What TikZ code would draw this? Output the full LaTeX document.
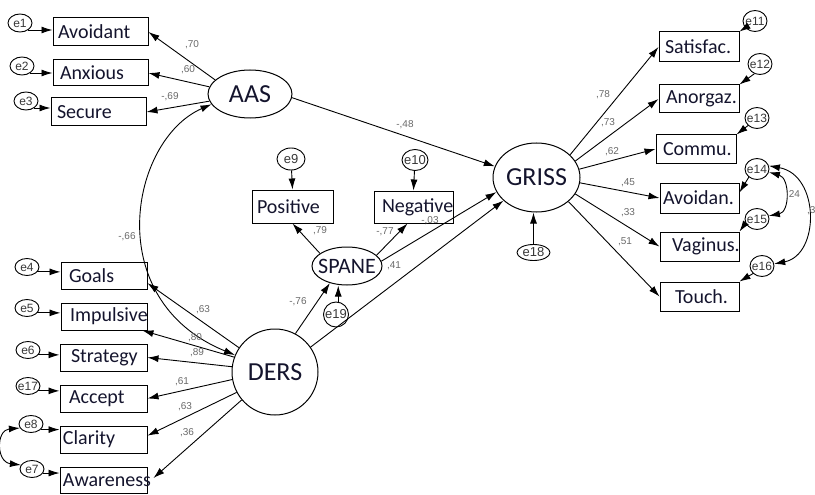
\documentclass[tikz,border=0pt]{standalone}
\usepackage{fontspec}
\setmainfont{Liberation Sans}
\newfontfamily\carl{Carlito}
\newfontfamily\arl{Liberation Sans}
\usetikzlibrary{arrows.meta,shapes.geometric,calc}
\hyphenpenalty=10000
\exhyphenpenalty=10000
\definecolor{txtc}{RGB}{20,20,45}
\definecolor{coefc}{RGB}{105,105,105}
\definecolor{errc}{RGB}{55,55,55}
\newcommand\bxfont{\carl\fontsize{20}{24}\selectfont}
\newcommand\ltfont{\carl\fontsize{26}{30}\selectfont}
\newcommand\erfont{\arl\fontsize{12}{14}\selectfont}
\newcommand\cffont{\arl\fontsize{10}{12}\selectfont}
\begin{document}
\begin{tikzpicture}[x=1pt,y=-1pt,
  >={Latex[length=11pt,width=7pt]},
  arr/.style={->, line width=0.9pt},
  darr/.style={<->, line width=0.9pt},
  obs/.style={draw, line width=1pt, inner ysep=0pt, align=left, font=\bxfont, text=txtc},
  lat/.style={draw, ellipse, line width=1pt, inner sep=0pt, font=\ltfont, text=txtc},
  err/.style={draw, ellipse, line width=0.9pt, inner sep=-2pt, minimum width=24pt, minimum height=18pt, font=\erfont, text=errc},
  coef/.style={font=\cffont, text=coefc, inner sep=0pt}]
\useasboundingbox (0,0) rectangle (815,495);

% latent variables
\node[lat, minimum width=84pt, minimum height=48pt] (AAS) at (250,94) {AAS};
\node[lat, minimum width=87pt, minimum height=69pt, inner xsep=-10pt] (GRISS) at (536.5,177.5) {GRISS};
\node[lat, minimum width=70pt, minimum height=38pt, inner xsep=-12pt, font=\carl\fontsize{22}{26}\selectfont] (SPANE) at (347,266) {SPANE};
\node[lat, circle, minimum size=86pt] (DERS) at (275,372) {DERS};

% observed: AAS
\node[obs, minimum height=28pt, text width=85pt, inner xsep=5pt] (Avoidant) at (100.5,32) {Avoidant};
\node[obs, minimum height=26pt, text width=81pt, inner xsep=7pt] (Anxious) at (100.5,73) {Anxious};
\node[obs, minimum height=28pt, text width=83pt, inner xsep=6pt] (Secure) at (98.5,112) {Secure};
% observed: DERS
\node[obs, minimum height=27pt, text width=70pt, inner xsep=8pt] (Goals) at (104,275.5) {Goals};
\node[obs, minimum height=27pt, text width=68pt, inner xsep=9pt] (Impulsive) at (104,316.5) {Impulsive};
\node[obs, minimum height=27pt, text width=65pt, inner xsep=11pt] (Strategy) at (103.5,357.5) {Strategy};
\node[obs, minimum height=27pt, text width=69pt, inner xsep=9pt] (Accept) at (103.5,398.5) {Accept};
\node[obs, minimum height=27pt, text width=81pt, inner xsep=3pt] (Clarity) at (103.5,439.5) {Clarity};
\node[obs, minimum height=26pt, text width=81pt, inner xsep=3pt] (Awareness) at (103.5,480) {Awareness};
% observed: SPANE
\node[obs, minimum height=33pt, text width=71pt, inner xsep=5pt] (Positive) at (292.5,206.5) {Positive};
\node[obs, minimum height=32pt, text width=63pt, inner xsep=8pt] (Negative) at (413.5,207) {Negative};
% observed: GRISS
\node[obs, minimum height=30pt, text width=68pt, inner xsep=6pt] (Satisfac) at (699,47) {Satisfac.};
\node[obs, minimum height=28pt, text width=66pt, inner xsep=7pt] (Anorgaz) at (699,99) {Anorgaz.};
\node[obs, minimum height=28pt, text width=66pt, inner xsep=7pt] (Commu) at (696,149) {Commu.};
\node[obs, minimum height=30pt, text width=73pt, inner xsep=3pt] (Avoidan) at (699.5,198) {Avoidan.};
\node[obs, minimum height=29pt, text width=55pt, inner xsep=12pt] (Vaginus) at (699.5,246.5) {Vaginus.};
\node[obs, minimum height=29pt, text width=49pt, inner xsep=15pt] (Touch) at (699.5,296.5) {Touch.};

% error terms
\node[err] (e1) at (20,23) {e1};
\node[err] (e2) at (22,66) {e2};
\node[err] (e3) at (26,101) {e3};
\node[err, minimum height=17pt] (e4) at (27,267) {e4};
\node[err, minimum height=17pt] (e5) at (27,308) {e5};
\node[err, minimum height=17pt] (e6) at (28,350) {e6};
\node[err, minimum height=17pt] (e17) at (28,386) {e17};
\node[err, minimum height=17pt] (e8) at (31,424) {e8};
\node[err, minimum height=17pt] (e7) at (32,469) {e7};
\node[err, minimum width=28pt, minimum height=22pt, font=\arl\fontsize{13}{15}\selectfont] (e9) at (291,159) {e9};
\node[err, minimum width=26pt, minimum height=21pt, font=\arl\fontsize{13}{15}\selectfont] (e10) at (415,160) {e10};
\node[err, minimum height=21pt] (e11) at (755,21) {e11};
\node[err, minimum height=21pt] (e12) at (760,64) {e12};
\node[err, minimum height=21pt] (e13) at (757,118) {e13};
\node[err, minimum height=21pt] (e14) at (757,169) {e14};
\node[err, minimum height=21pt] (e15) at (757,219) {e15};
\node[err, minimum height=21pt] (e16) at (762,266) {e16};
\node[err, minimum width=33pt, minimum height=16pt, font=\arl\fontsize{13}{15}\selectfont] (e18) at (533.5,252.5) {e18};
\node[err, minimum width=22pt, minimum height=25pt, font=\arl\fontsize{13}{15}\selectfont] (e19) at (336,314.5) {e19};

% error arrows
\draw[arr] (e1.-40) -- (e1.-40 -| Avoidant.west);
\draw[arr] (e2.-40) -- (e2.-40 -| Anxious.west);
\draw[arr] (e3.-40) -- (e3.-40 -| Secure.west);
\draw[arr] (e4.-25) -- (e4.-25 -| Goals.west);
\draw[arr] (e5.-25) -- (e5.-25 -| Impulsive.west);
\draw[arr] (e6.-25) -- (e6.-25 -| Strategy.west);
\draw[arr] (e17.-25) -- (e17.-25 -| Accept.west);
\draw[arr] (e8.-30) -- (e8.-30 -| Clarity.west);
\draw[arr] (e7.-20) -- (e7.-20 -| Awareness.west);
\draw[arr] (e9) -- (Positive.north);
\draw[arr] (e10) -- (Negative.north);
\draw[arr] (e11.215) -- (Satisfac.north east);
\draw[arr] (e12.240) -- (Anorgaz.north east);
\draw[arr] (e13.220) -- (Commu.north east);
\draw[arr] (e14.225) -- (Avoidan.8);
\draw[arr] (e15.200) -- (Vaginus.north east);
\draw[arr] (e16.220) -- (Touch.north east);
\draw[arr] (e18.north) -- (e18.north |- GRISS.south);
\draw[arr] (e19.80) -- (e19.80 |- SPANE.south);

% covariances
\draw[darr] (e8.200) .. controls (-4,430) and (-4,462) .. (e7.160);
\draw[darr] (e14.-15) .. controls (790,178) and (790,212) .. (e15.15);
\draw[darr] (e14.15) .. controls (820,175) and (820,255) .. (e16.10);
\draw[darr] (DERS.157) .. controls (100,300) and (130,140) .. (AAS.195);

% loadings
\draw[arr] (AAS.158) -- (Avoidant.east);
\draw[arr] (AAS.170) -- (Anxious.east);
\draw[arr] (AAS.190) -- (Secure.east);
\draw[arr] (DERS.146) -- (Goals.-10);
\draw[arr] (DERS.160) -- (Impulsive.-20);
\draw[arr] (DERS.173) -- (Strategy.east);
\draw[arr] (DERS.190) -- (Accept.east);
\draw[arr] (DERS.208) -- (Clarity.5);
\draw[arr] (DERS.220) -- ($(Awareness.east)+(6,-2)$);
\draw[arr] (SPANE.155) -- (Positive.south);
\draw[arr] (SPANE.20) -- ($(Negative.south)+(-6,0)$);
\draw[arr] (GRISS.34) -- (Satisfac.west);
\draw[arr] (GRISS.23) -- (Anorgaz.west);
\draw[arr] (GRISS.11) -- (Commu.west);
\draw[arr] (GRISS.-7) -- (Avoidan.west);
\draw[arr] (GRISS.-23) -- (Vaginus.west);
\draw[arr] (GRISS.-37) -- (Touch.west);

% structural paths
\draw[arr] (AAS.-5) -- (GRISS.165);
\draw[arr] (SPANE.8) -- (GRISS.200);
\draw[arr] (DERS.35) -- (GRISS.215);
\draw[arr] (DERS.62) -- (SPANE.225);

% coefficients
\node[coef] (c1) at (192,45) {,70};
\node[coef] (c2) at (188,70) {,60};
\node[coef] (c3) at (170,97) {-,69};
\node[coef] (c4) at (405,125) {-,48};
\node[coef] (c5) at (320,231) {,79};
\node[coef] (c6) at (385,232) {-,77};
\node[coef] (c7) at (430,221) {-,03};
\node[coef] (c8) at (394,266) {,41};
\node[coef] (c9) at (298,302) {-,76};
\node[coef] (c10) at (127,237) {-,66};
\node[coef] (c11) at (203,310) {,63};
\node[coef] (c12) at (195,338) {,80};
\node[coef] (c13) at (197,353) {,89};
\node[coef] (c14) at (182,382) {,61};
\node[coef] (c15) at (185,407) {,63};
\node[coef] (c16) at (187,433) {,36};
\node[coef] (c17) at (603,95) {,78};
\node[coef] (c18) at (608,123) {,73};
\node[coef] (c19) at (612,152) {,62};
\node[coef] (c20) at (628,183) {,45};
\node[coef] (c21) at (628,213) {,33};
\node[coef] (c22) at (625,242) {,51};
\node[coef] (c23) at (793,195) {,24};
\node[coef, anchor=west] (c24) at (807,211) {,3};
\end{tikzpicture}
\end{document}
